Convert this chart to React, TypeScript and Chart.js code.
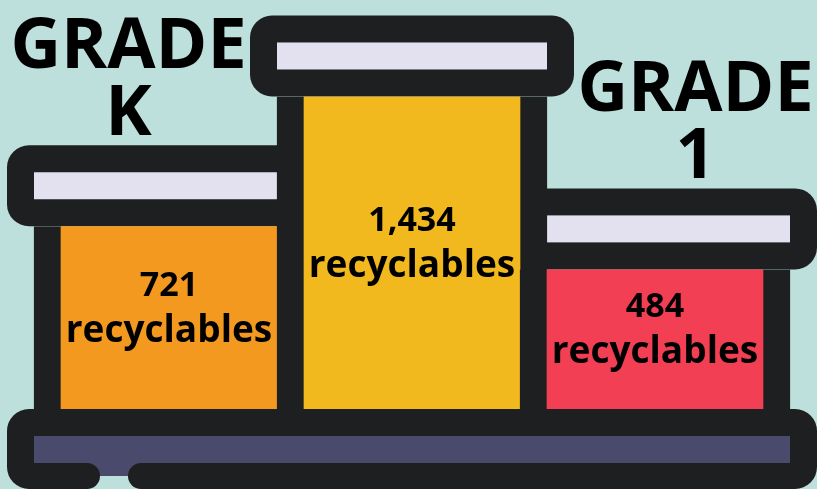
import React, { useEffect, useRef } from "react";
import { Chart, registerables } from "chart.js";

Chart.register(...registerables);

// ---- data ----
const categories = ["GRADE K", "", "GRADE 1"];
const recyclables = [721, 1434, 484];
const unitLabel = "recyclables";
const barColors = ["#f4991f", "#f1b91d", "#f23f53"];

// ---- styling ----
const DARK = "#1e1f21";
const LAVENDER = "#e3e1ef";
const BASE_PURPLE = "#4a4a6c";
const BG = "#bde0dc";
const BORDER = 27;
const Y_MIN = -283;
const Y_MAX = 1964;

function rr(ctx: CanvasRenderingContext2D, x: number, y: number, w: number, h: number, r: number) {
  ctx.beginPath();
  (ctx as any).roundRect(x, y, w, h, r);
}

const podiumPlugin = {
  id: "podium",
  beforeDatasetsDraw(chart: any) {
    const ctx: CanvasRenderingContext2D = chart.ctx;
    const meta = chart.getDatasetMeta(0);
    const bars = meta.data.map((b: any) => b.getProps(["x", "y", "width", "base"], true));
    ctx.save();
    bars.forEach((b: any) => {
      const left = b.x - b.width / 2;
      ctx.fillStyle = DARK;
      rr(ctx, left - BORDER, b.y - 3 * BORDER, b.width + 2 * BORDER, 3 * BORDER, 22);
      ctx.fill();
      ctx.fillStyle = LAVENDER;
      ctx.fillRect(left, b.y - 2 * BORDER, b.width, BORDER);
    });
    // grade labels above caps
    const capL = (b: any) => b.x - b.width / 2 - BORDER;
    const capR = (b: any) => b.x + b.width / 2 + BORDER;
    ctx.fillStyle = "#000";
    ctx.textAlign = "center";
    ctx.textBaseline = "alphabetic";
    ctx.font = "700 70px 'Open Sans'";
    bars.forEach((b: any, i: number) => {
      const label = chart.data.labels[i];
      if (!label) return;
      const lo = i === 0 ? capL(b) : capR(bars[i - 1]);
      const hi = i < bars.length - 1 ? capL(bars[i + 1]) : capR(b);
      const cx = (lo + hi) / 2;
      const lines = String(label).split(" ");
      const capTop = b.y - 3 * BORDER;
      lines.forEach((ln, k) => {
        const base = capTop - 10 - (lines.length - 1 - k) * 67;
        ctx.fillText(ln, cx, base);
      });
    });
    ctx.restore();
  },
  afterDatasetsDraw(chart: any) {
    const ctx: CanvasRenderingContext2D = chart.ctx;
    const meta = chart.getDatasetMeta(0);
    const bars = meta.data.map((b: any) => b.getProps(["x", "y", "width", "base"], true));
    const n = bars.length;
    ctx.save();
    // base platform
    const L = bars[0].x - bars[0].width / 2 - BORDER;
    const R = bars[n - 1].x + bars[n - 1].width / 2 + BORDER;
    const T = chart.chartArea.bottom;
    ctx.fillStyle = DARK;
    rr(ctx, L, T, R - L, 3 * BORDER - 1, 22);
    ctx.fill();
    ctx.fillStyle = BASE_PURPLE;
    ctx.fillRect(L + BORDER, T + BORDER, R - L - 2 * BORDER, BORDER);
    const nx = L + 93;
    const nw = 28;
    ctx.fillRect(nx - 13, T + 2 * BORDER, nw + 26, 13);
    ctx.fillStyle = BG;
    ctx.fillRect(nx - 13, T + 2 * BORDER + 13, nw + 26, 20);
    ctx.fillStyle = DARK;
    rr(ctx, nx - 40, T + 2 * BORDER, 40, 26, 13);
    ctx.fill();
    rr(ctx, nx + nw, T + 2 * BORDER, 40, 26, 13);
    ctx.fill();
    // value labels
    ctx.fillStyle = "#000";
    ctx.textAlign = "center";
    ctx.textBaseline = "alphabetic";
    bars.forEach((b: any, i: number) => {
      const mid = (b.y + b.base) / 2;
      ctx.font = "700 34px 'Open Sans'";
      ctx.fillText(recyclables[i].toLocaleString("en-US"), b.x, mid - 22);
      ctx.font = "700 37px 'Open Sans'";
      ctx.fillText(unitLabel, b.x, mid + 24);
    });
    ctx.restore();
  },
};

export default function App() {
  const ref = useRef<HTMLCanvasElement | null>(null);
  useEffect(() => {
    if (!ref.current) return;
    const chart = new Chart(ref.current, {
      type: "bar",
      data: {
        labels: categories,
        datasets: [
          {
            data: recyclables,
            backgroundColor: barColors,
            borderColor: DARK,
            borderWidth: { left: BORDER, right: BORDER, top: 0, bottom: 0 },
            borderSkipped: false,
            barThickness: 270,
            base: Y_MIN,
            clip: false,
          } as any,
        ],
      },
      options: {
        responsive: false,
        animation: false,
        events: [],
        layout: { padding: { left: 47.5, right: 40.5, top: 0, bottom: 80 } },
        plugins: { legend: { display: false }, tooltip: { enabled: false }, title: { display: false } },
        scales: {
          x: { type: "category", display: false, offset: true, grid: { display: false } },
          y: { type: "linear", display: false, min: Y_MIN, max: Y_MAX, grid: { display: false } },
        },
      },
      plugins: [podiumPlugin],
    });
    return () => chart.destroy();
  }, []);
  return (
    <div style={{ position: "fixed", left: 0, top: 0, width: 817, height: 489, background: BG, overflow: "hidden" }}>
      <canvas ref={ref} width={817} height={489} style={{ display: "block", width: 817, height: 489 }} />
    </div>
  );
}
